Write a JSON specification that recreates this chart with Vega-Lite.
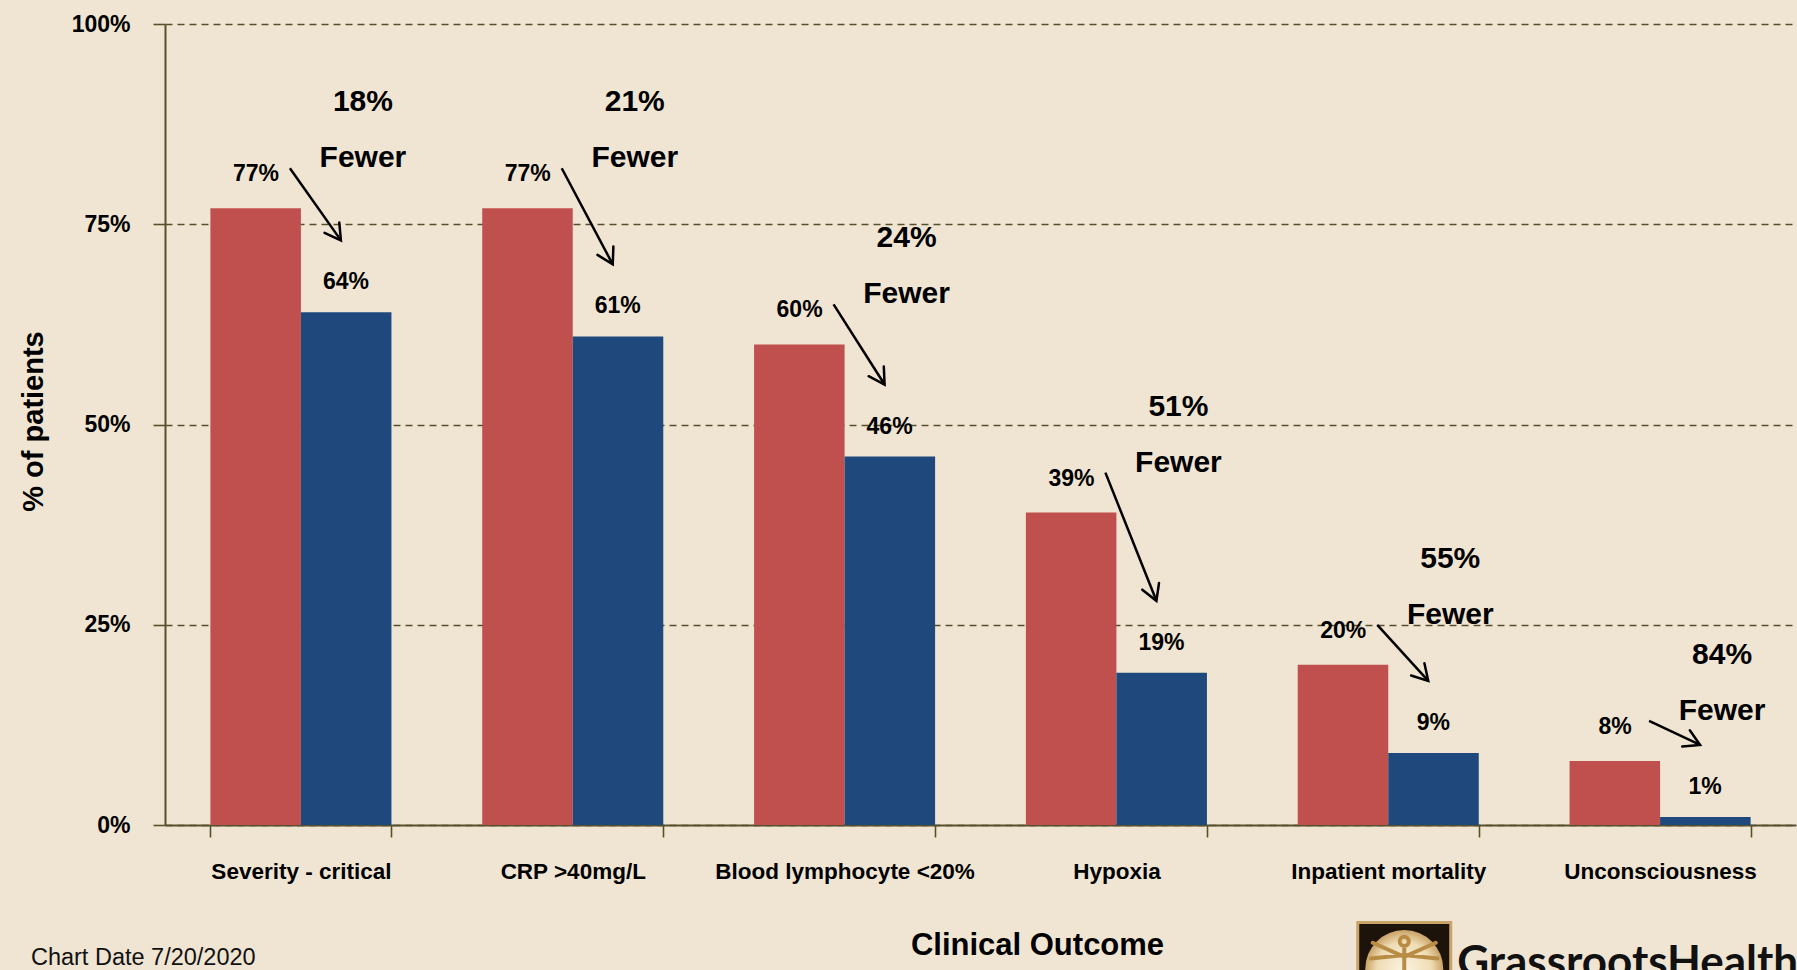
{
  "$schema": "https://vega.github.io/schema/vega-lite/v6.json",
  "width": 1631,
  "height": 801,
  "autosize": {"type": "none"},
  "padding": {"left": 165, "top": 24, "right": 1, "bottom": 145},
  "background": "#F0E5D2",
  "config": {
    "view": {"stroke": null},
    "font": "Liberation Sans",
    "axis": {"labelColor": "#000000", "titleColor": "#000000"}
  },
  "datasets": {
    "outcomes": [
      {"outcome": "Severity - critical", "low": 0.77, "high": 0.64, "fewer": 0.18},
      {"outcome": "CRP >40mg/L", "low": 0.77, "high": 0.61, "fewer": 0.21},
      {"outcome": "Blood lymphocyte <20%", "low": 0.60, "high": 0.46, "fewer": 0.24},
      {"outcome": "Hypoxia", "low": 0.39, "high": 0.19, "fewer": 0.51},
      {"outcome": "Inpatient mortality", "low": 0.20, "high": 0.09, "fewer": 0.55},
      {"outcome": "Unconsciousness", "low": 0.08, "high": 0.01, "fewer": 0.84}
    ]
  },
  "layer": [
    {
      "data": {"name": "outcomes"},
      "transform": [{"fold": ["low", "high"], "as": ["group", "share"]}],
      "mark": {"type": "bar"},
      "encoding": {
        "x": {
          "field": "outcome", "type": "nominal",
          "scale": {"domain": ["Severity - critical", "CRP >40mg/L", "Blood lymphocyte <20%", "Hypoxia", "Inpatient mortality", "Unconsciousness"], "paddingInner": 0.334, "paddingOuter": 0.167},
          "axis": {
            "title": "Clinical Outcome", "titleFontSize": 31, "titleFontWeight": "bold",
            "titleX": 872, "titleY": 129, "titleBaseline": "alphabetic", "titleAlign": "center", "titleAnchor": null,
            "labelAngle": 0, "labelFontSize": 22.5, "labelFontWeight": "bold", "labelBaseline": "alphabetic",
            "labelPadding": 41, "labelLimit": 400, "tickBand": "extent", "tickSize": 12,
            "tickColor": "#57502f", "tickWidth": 1.6, "domainColor": "#57502f", "domainWidth": 2
          }
        },
        "xOffset": {"field": "group", "type": "nominal", "scale": {"domain": ["low", "high"], "paddingInner": 0, "paddingOuter": 0}},
        "y": {
          "field": "share", "type": "quantitative",
          "scale": {"domain": [0, 1], "nice": false},
          "axis": {
            "title": "% of patients", "titleFontSize": 29, "titleFontWeight": "bold", "titleAngle": -90,
            "titleX": -123, "titleY": 397, "titleBaseline": "alphabetic", "titleAlign": "center",
            "values": [0, 0.25, 0.5, 0.75, 1], "format": ".0%",
            "labelFontSize": 23, "labelFontWeight": "bold", "labelPadding": 23,
            "tickSize": 12, "tickColor": "#57502f", "tickWidth": 1.6,
            "grid": true, "gridDash": [7, 5], "gridColor": "#57502f", "gridWidth": 1.3,
            "domainColor": "#57502f", "domainWidth": 2
          }
        },
        "color": {"field": "group", "type": "nominal", "scale": {"domain": ["low", "high"], "range": ["#C0504D", "#1F497D"]}, "legend": null}
      }
    },
    {
      "data": {"name": "outcomes"},
      "mark": {"type": "text", "fontSize": 23, "fontWeight": "bold", "color": "#000000", "xOffset": -45, "dy": -27, "baseline": "alphabetic"},
      "encoding": {
        "x": {"field": "outcome", "type": "nominal", "scale": {"domain": ["Severity - critical", "CRP >40mg/L", "Blood lymphocyte <20%", "Hypoxia", "Inpatient mortality", "Unconsciousness"]}},
        "y": {"field": "low", "type": "quantitative", "scale": {"domain": [0, 1]}},
        "text": {"field": "low", "type": "quantitative", "format": ".0%"}
      }
    },
    {
      "data": {"name": "outcomes"},
      "mark": {"type": "text", "fontSize": 23, "fontWeight": "bold", "color": "#000000", "xOffset": 45, "dy": -23, "baseline": "alphabetic"},
      "encoding": {
        "x": {"field": "outcome", "type": "nominal", "scale": {"domain": ["Severity - critical", "CRP >40mg/L", "Blood lymphocyte <20%", "Hypoxia", "Inpatient mortality", "Unconsciousness"]}},
        "y": {"field": "high", "type": "quantitative", "scale": {"domain": [0, 1]}},
        "text": {"field": "high", "type": "quantitative", "format": ".0%"}
      }
    },
    {
      "data": {"name": "outcomes"},
      "mark": {"type": "rule", "color": "#000000", "strokeWidth": 2.5, "xOffset": -11, "x2Offset": 40, "yOffset": -40, "y2Offset": -72},
      "encoding": {
        "x": {"field": "outcome", "type": "nominal", "scale": {"domain": ["Severity - critical", "CRP >40mg/L", "Blood lymphocyte <20%", "Hypoxia", "Inpatient mortality", "Unconsciousness"]}},
        "x2": {"field": "outcome"},
        "y": {"field": "low", "type": "quantitative", "scale": {"domain": [0, 1]}},
        "y2": {"field": "high"}
      }
    },
    {
      "data": {"name": "outcomes"},
      "mark": {"type": "point", "shape": "M-0.5,-0.866L0,0L0.5,-0.866", "size": 1296, "filled": false, "stroke": "#000000", "strokeWidth": 2.5, "opacity": 1, "strokeCap": "round", "strokeJoin": "miter", "xOffset": 40, "yOffset": -72},
      "encoding": {
        "x": {"field": "outcome", "type": "nominal", "scale": {"domain": ["Severity - critical", "CRP >40mg/L", "Blood lymphocyte <20%", "Hypoxia", "Inpatient mortality", "Unconsciousness"]}},
        "y": {"field": "high", "type": "quantitative", "scale": {"domain": [0, 1]}},
        "angle": {
          "field": "outcome", "type": "nominal", "legend": null,
          "scale": {"type": "ordinal", "domain": ["Severity - critical", "CRP >40mg/L", "Blood lymphocyte <20%", "Hypoxia", "Inpatient mortality", "Unconsciousness"], "range": [-35.3, -28, -32.5, -21.7, -42.3, -64.8]}
        }
      }
    },
    {
      "data": {"name": "outcomes"},
      "mark": {"type": "text", "fontSize": 30, "fontWeight": "bold", "color": "#000000", "xOffset": 62, "dy": -97, "baseline": "alphabetic"},
      "encoding": {
        "x": {"field": "outcome", "type": "nominal", "scale": {"domain": ["Severity - critical", "CRP >40mg/L", "Blood lymphocyte <20%", "Hypoxia", "Inpatient mortality", "Unconsciousness"]}},
        "y": {"field": "low", "type": "quantitative", "scale": {"domain": [0, 1]}},
        "text": {"field": "fewer", "type": "quantitative", "format": ".0%"}
      }
    },
    {
      "data": {"name": "outcomes"},
      "mark": {"type": "text", "text": "Fewer", "fontSize": 30, "fontWeight": "bold", "color": "#000000", "xOffset": 62, "dy": -41, "baseline": "alphabetic"},
      "encoding": {
        "x": {"field": "outcome", "type": "nominal", "scale": {"domain": ["Severity - critical", "CRP >40mg/L", "Blood lymphocyte <20%", "Hypoxia", "Inpatient mortality", "Unconsciousness"]}},
        "y": {"field": "low", "type": "quantitative", "scale": {"domain": [0, 1]}}
      }
    },
    {
      "data": {"values": [{"note": "Chart Date 7/20/2020"}]},
      "mark": {"type": "text", "font": "Liberation Sans", "fontSize": 23.5, "color": "#111111", "align": "left", "baseline": "alphabetic", "dx": -270},
      "encoding": {
        "x": {"datum": "Severity - critical", "type": "nominal", "scale": {"domain": ["Severity - critical", "CRP >40mg/L", "Blood lymphocyte <20%", "Hypoxia", "Inpatient mortality", "Unconsciousness"]}},
        "y": {"datum": -0.1748, "type": "quantitative", "scale": {"domain": [0, 1]}},
        "text": {"field": "note", "type": "nominal"}
      }
    },
    {
      "data": {"values": [{"logo": "GrassrootsHealth"}]},
      "mark": {"type": "point", "shape": "square", "size": 8649, "filled": true, "fill": "#1c140a", "stroke": "#c9a46a", "strokeWidth": 3, "opacity": 1, "xOffset": 16},
      "encoding": {
        "x": {"datum": "Inpatient mortality", "type": "nominal", "scale": {"domain": ["Severity - critical", "CRP >40mg/L", "Blood lymphocyte <20%", "Hypoxia", "Inpatient mortality", "Unconsciousness"]}},
        "y": {"datum": -0.1798, "type": "quantitative", "scale": {"domain": [0, 1]}}
      }
    },
    {
      "data": {"values": [{"logo": "GrassrootsHealth"}]},
      "mark": {"type": "point", "shape": "circle", "size": 6084, "filled": true, "opacity": 1, "strokeWidth": 0, "xOffset": 16,
        "fill": {"gradient": "radial", "x1": 0.5, "y1": 0.5, "r1": 0, "x2": 0.5, "y2": 0.5, "r2": 0.5, "stops": [{"offset": 0, "color": "#fbf4e2"}, {"offset": 0.7, "color": "#efdcb4"}, {"offset": 1, "color": "#c9a266"}]}},
      "encoding": {
        "x": {"datum": "Inpatient mortality", "type": "nominal", "scale": {"domain": ["Severity - critical", "CRP >40mg/L", "Blood lymphocyte <20%", "Hypoxia", "Inpatient mortality", "Unconsciousness"]}},
        "y": {"datum": -0.1798, "type": "quantitative", "scale": {"domain": [0, 1]}}
      }
    },
    {
      "data": {"values": [{"logo": "GrassrootsHealth"}]},
      "mark": {"type": "point", "shape": "M-0.9,-0.75L0,-0.35L0.9,-0.75M-0.95,-0.3L0,-0.4L0.95,-0.3M0,-0.6L0,0.35M0,0.35L-0.35,1M0,0.35L0.35,1M0,-0.92A0.13,0.13,0,1,1,0,-0.66A0.13,0.13,0,1,1,0,-0.92Z", "size": 4900, "filled": false, "stroke": "#b88c45", "strokeWidth": 4, "opacity": 1, "strokeCap": "round", "xOffset": 16},
      "encoding": {
        "x": {"datum": "Inpatient mortality", "type": "nominal", "scale": {"domain": ["Severity - critical", "CRP >40mg/L", "Blood lymphocyte <20%", "Hypoxia", "Inpatient mortality", "Unconsciousness"]}},
        "y": {"datum": -0.1798, "type": "quantitative", "scale": {"domain": [0, 1]}}
      }
    },
    {
      "data": {"values": [{"logo": "GrassrootsHealth"}]},
      "mark": {"type": "text", "font": "Lato", "fontSize": 44, "fontWeight": "bold", "color": "#111111", "align": "left", "baseline": "alphabetic", "dx": 69},
      "encoding": {
        "x": {"datum": "Inpatient mortality", "type": "nominal", "scale": {"domain": ["Severity - critical", "CRP >40mg/L", "Blood lymphocyte <20%", "Hypoxia", "Inpatient mortality", "Unconsciousness"]}},
        "y": {"datum": -0.19, "type": "quantitative", "scale": {"domain": [0, 1]}},
        "text": {"field": "logo", "type": "nominal"}
      }
    }
  ]
}
